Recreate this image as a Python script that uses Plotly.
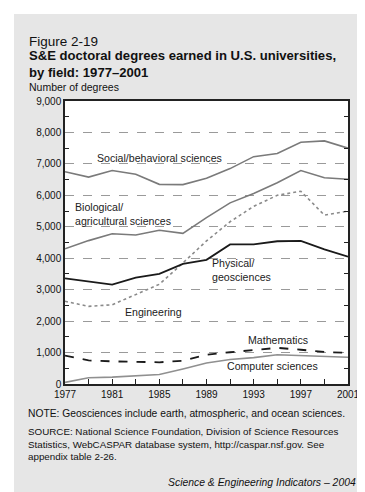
import plotly.graph_objects as go

years = [1977, 1979, 1981, 1983, 1985, 1987, 1989, 1991, 1993, 1995, 1997, 1999, 2001]

social = [6750, 6580, 6790, 6670, 6350, 6340, 6540, 6850, 7230, 7330, 7690, 7730, 7500]
biological = [4300, 4560, 4780, 4740, 4890, 4790, 5290, 5760, 6060, 6400, 6790, 6560, 6510]
engineering = [2630, 2470, 2520, 2840, 3170, 3850, 4550, 5160, 5650, 6000, 6130, 5370, 5500]
physical = [3360, 3270, 3160, 3380, 3500, 3820, 3950, 4440, 4440, 4540, 4550, 4280, 4050]
mathematics = [900, 750, 720, 700, 690, 740, 930, 1010, 1090, 1150, 1090, 1020, 990]
computer = [50, 200, 220, 250, 300, 480, 670, 780, 840, 930, 900, 880, 850]

y_ticks = [0, 1000, 2000, 3000, 4000, 5000, 6000, 7000, 8000, 9000]
y_tick_text = ["0", "1,000", "2,000", "3,000", "4,000", "5,000", "6,000", "7,000", "8,000", "9,000"]
x_ticks = [1977, 1981, 1985, 1989, 1993, 1997, 2001]

FONT = "Liberation Sans, Arial, sans-serif"
GRAY_LINE = "#7a7a7a"

fig = go.Figure()

series = [
    (social, GRAY_LINE, "solid", 1.6),
    (biological, GRAY_LINE, "solid", 1.6),
    (engineering, "#8a8a8a", "dot", 1.6),
    (physical, "#1a1a1a", "solid", 1.8),
    (mathematics, "#1a1a1a", "dash", 1.8),
    (computer, "#909090", "solid", 1.6),
]
for vals, col, dash, w in series:
    fig.add_trace(go.Scatter(x=years, y=vals, mode="lines",
                             line=dict(color=col, dash=dash, width=w),
                             showlegend=False, hoverinfo="skip"))

# line labels
labels = [
    (1985.0, 7200, "Social/behavioral sciences", "center"),
    (1977.7, 5420, "Biological/<br>agricultural sciences", "left"),
    (1989.3, 3630, "Physical/<br>geosciences", "left"),
    (1984.5, 2300, "Engineering", "center"),
    (1995.1, 1400, "Mathematics", "center"),
    (1994.6, 580, "Computer sciences", "center"),
]
for x, y, t, al in labels:
    fig.add_annotation(x=x, y=y, text=t, showarrow=False, align="left",
                       xanchor="left" if al == "left" else "center",
                       font=dict(family=FONT, size=10.6, color="#222"))


def px_x(p):
    return (p - 57) / 283.0


def px_y(p):
    return (376 - p) / 283.0


# white page strips on top and left of the gray panel
fig.add_shape(type="rect", xref="paper", yref="paper", layer="above",
              x0=px_x(0), x1=px_x(365), y0=px_y(6), y1=px_y(0),
              fillcolor="white", line=dict(width=0))
fig.add_shape(type="rect", xref="paper", yref="paper", layer="above",
              x0=px_x(0), x1=px_x(6), y0=px_y(492), y1=px_y(0),
              fillcolor="white", line=dict(width=0))

# header texts
fig.add_annotation(xref="paper", yref="paper", x=px_x(19), y=px_y(24), xanchor="left",
                   yanchor="top", showarrow=False, text="Figure 2-19",
                   font=dict(family=FONT, size=13.5, color="#111"))
fig.add_annotation(xref="paper", yref="paper", x=px_x(19), y=px_y(38), xanchor="left",
                   yanchor="top", showarrow=False, align="left",
                   text="<b>S&E doctoral degrees earned in U.S. universities,<br>by field: 1977–2001</b>",
                   font=dict(family=FONT, size=13.1, color="#111"))
fig.add_annotation(xref="paper", yref="paper", x=px_x(19), y=px_y(71), xanchor="left",
                   yanchor="top", showarrow=False, text="Number of degrees",
                   font=dict(family=FONT, size=10.5, color="#111"))

# footer texts
fig.add_annotation(xref="paper", yref="paper", x=px_x(18), y=px_y(398), xanchor="left",
                   yanchor="top", showarrow=False,
                   text="NOTE: Geosciences include earth, atmospheric, and ocean sciences.",
                   font=dict(family=FONT, size=10.3, color="#111"))
fig.add_annotation(xref="paper", yref="paper", x=px_x(18), y=px_y(416), xanchor="left",
                   yanchor="top", showarrow=False, align="left",
                   text="SOURCE: National Science Foundation, Division of Science Resources<br>"
                        "Statistics, WebCASPAR database system, http://caspar.nsf.gov. See<br>"
                        "appendix table 2-26.",
                   font=dict(family=FONT, size=9.8, color="#111"))
fig.add_annotation(xref="paper", yref="paper", x=px_x(350), y=px_y(467), xanchor="right",
                   yanchor="top", showarrow=False,
                   text="<i>Science & Engineering Indicators – 2004</i>",
                   font=dict(family=FONT, size=10.4, color="#111"))

fig.update_xaxes(range=[1977, 2001], tickvals=x_ticks, ticks="inside", ticklen=5,
                 tickcolor="#222", showgrid=False, zeroline=False,
                 showline=True, linecolor="#222", linewidth=1.5, mirror=True,
                 minor=dict(ticks="inside", dtick=2, tick0=1977, ticklen=5, tickcolor="#222"),
                 tickfont=dict(family=FONT, size=10, color="#111"))
fig.update_yaxes(range=[0, 9000], tickvals=y_ticks, ticktext=y_tick_text,
                 ticks="", showgrid=True, gridcolor="#9a9a9a", griddash="dash", gridwidth=1,
                 zeroline=False, showline=True, linecolor="#222", linewidth=1.5, mirror="ticks",
                 minor=dict(ticks="inside", dtick=1000, tick0=500, ticklen=4, tickcolor="#222",
                            showgrid=False),
                 tickfont=dict(family=FONT, size=10, color="#111"))

fig.update_layout(width=365, height=492,
                  margin=dict(l=57, r=25, t=93, b=116),
                  paper_bgcolor="#e6e6e6", plot_bgcolor="white",
                  font=dict(family=FONT))

fig.write_html("out.html")
